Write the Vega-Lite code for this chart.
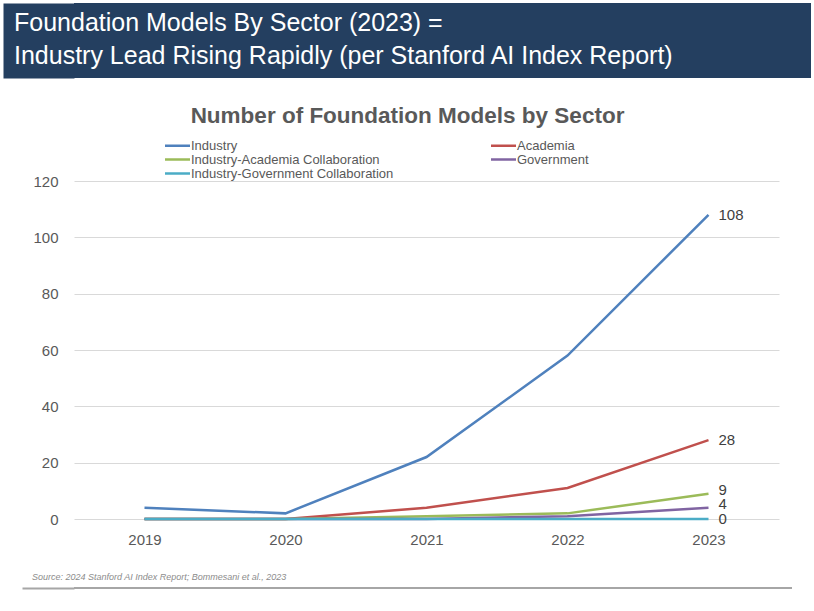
{
  "$schema": "https://vega.github.io/schema/vega-lite/v6.json",
  "background": "white",
  "padding": {"left": 3, "top": -3, "right": 3, "bottom": 3},
  "spacing": 26,
  "config": {
    "font": "Liberation Sans",
    "view": {"stroke": null}
  },
  "vconcat": [
    {
      "width": 737,
      "height": 75,
      "view": {"fill": "#243F60", "stroke": null},
      "title": {
        "text": ["Foundation Models By Sector (2023) =", "Industry Lead Rising Rapidly (per Stanford AI Index Report)"],
        "anchor": "start",
        "orient": "bottom",
        "frame": "group",
        "offset": -67,
        "dx": -60,
        "baseline": "top",
        "color": "#FFFFFF",
        "font": "Liberation Sans",
        "fontSize": 25,
        "fontWeight": "normal",
        "lineHeight": 33
      },
      "data": {"values": [{"t": ""}]},
      "mark": {"type": "text"},
      "encoding": {
        "text": {"field": "t"},
        "y": {"datum": 0, "type": "quantitative", "axis": {"labels": false, "ticks": false, "grid": false, "title": null, "domain": true, "domainColor": "#243F60", "domainWidth": 71, "domainCap": "butt", "offset": 35.5}}
      }
    },
    {
      "width": 705,
      "height": 338,
      "title": {
        "text": "Number of Foundation Models by Sector",
        "anchor": "middle",
        "frame": "group",
        "dx": -19,
        "offset": 47,
        "color": "#595959",
        "font": "Liberation Sans",
        "fontSize": 22.5,
        "fontWeight": "bold"
      },
      "data": {
        "values": [
          {"year": "2019", "sector": "Industry", "count": 4},
          {"year": "2020", "sector": "Industry", "count": 2},
          {"year": "2021", "sector": "Industry", "count": 22},
          {"year": "2022", "sector": "Industry", "count": 58},
          {"year": "2023", "sector": "Industry", "count": 108},
          {"year": "2019", "sector": "Academia", "count": 0},
          {"year": "2020", "sector": "Academia", "count": 0},
          {"year": "2021", "sector": "Academia", "count": 4},
          {"year": "2022", "sector": "Academia", "count": 11},
          {"year": "2023", "sector": "Academia", "count": 28},
          {"year": "2019", "sector": "Industry-Academia Collaboration", "count": 0},
          {"year": "2020", "sector": "Industry-Academia Collaboration", "count": 0},
          {"year": "2021", "sector": "Industry-Academia Collaboration", "count": 1},
          {"year": "2022", "sector": "Industry-Academia Collaboration", "count": 2},
          {"year": "2023", "sector": "Industry-Academia Collaboration", "count": 9},
          {"year": "2019", "sector": "Government", "count": 0},
          {"year": "2020", "sector": "Government", "count": 0},
          {"year": "2021", "sector": "Government", "count": 0},
          {"year": "2022", "sector": "Government", "count": 1},
          {"year": "2023", "sector": "Government", "count": 4},
          {"year": "2019", "sector": "Industry-Government Collaboration", "count": 0},
          {"year": "2020", "sector": "Industry-Government Collaboration", "count": 0},
          {"year": "2021", "sector": "Industry-Government Collaboration", "count": 0},
          {"year": "2022", "sector": "Industry-Government Collaboration", "count": 0},
          {"year": "2023", "sector": "Industry-Government Collaboration", "count": 0}
        ]
      },
      "encoding": {
        "x": {
          "field": "year",
          "type": "ordinal",
          "scale": {"type": "point", "padding": 0.5},
          "axis": {
            "title": null,
            "labelAngle": 0,
            "domain": false,
            "ticks": false,
            "grid": false,
            "labelPadding": 13,
            "labelFontSize": 15,
            "labelColor": "#595959",
            "labelFont": "Liberation Sans"
          }
        },
        "y": {
          "field": "count",
          "type": "quantitative",
          "scale": {"domain": [0, 120], "nice": false},
          "axis": {
            "title": null,
            "values": [0, 20, 40, 60, 80, 100, 120],
            "domain": false,
            "ticks": false,
            "grid": true,
            "gridColor": "#D9D9D9",
            "gridWidth": 1,
            "labelPadding": 16,
            "labelFontSize": 15,
            "labelColor": "#595959",
            "labelFont": "Liberation Sans",
            "minExtent": 71,
            "maxExtent": 71
          }
        }
      },
      "layer": [
        {
          "mark": {"type": "line", "strokeWidth": 2.5},
          "encoding": {
            "color": {
              "field": "sector",
              "type": "nominal",
              "scale": {
                "domain": ["Industry", "Academia", "Industry-Academia Collaboration", "Government", "Industry-Government Collaboration"],
                "range": ["#4F81BD", "#C0504D", "#9BBB59", "#8064A2", "#4BACC6"]
              },
              "legend": {
                "title": null,
                "orient": "none",
                "legendX": 97,
                "legendY": 136,
                "direction": "horizontal",
                "columns": 2,
                "columnPadding": 92,
                "rowPadding": 0,
                "symbolType": "M-2.5,0H2.5",
                "symbolSize": 100,
                "symbolStrokeWidth": 2.5,
                "labelOffset": 7,
                "labelFontSize": 13,
                "labelLimit": 400,
                "labelColor": "#595959",
                "labelFont": "Liberation Sans"
              }
            }
          }
        },
        {
          "transform": [
            {"filter": {"field": "year", "equal": "2023"}},
            {"filter": {"field": "sector", "oneOf": ["Industry", "Academia", "Industry-Government Collaboration"]}}
          ],
          "mark": {"type": "text", "align": "left", "baseline": "middle", "dx": 10, "fontSize": 15, "color": "#404040", "font": "Liberation Sans"},
          "encoding": {"text": {"field": "count", "type": "quantitative"}}
        },
        {
          "transform": [
            {"filter": {"field": "year", "equal": "2023"}},
            {"filter": {"field": "sector", "oneOf": ["Industry-Academia Collaboration", "Government"]}}
          ],
          "mark": {"type": "text", "align": "left", "baseline": "middle", "dx": 10, "dy": -4, "fontSize": 15, "color": "#404040", "font": "Liberation Sans"},
          "encoding": {"text": {"field": "count", "type": "quantitative"}}
        }
      ]
    },
    {
      "width": 718,
      "height": 2,
      "view": {"fill": "#A6A6A6", "stroke": null},
      "title": {
        "text": "Source: 2024 Stanford AI Index Report; Bommesani et al., 2023",
        "anchor": "start",
        "frame": "group",
        "dx": -42,
        "offset": -1,
        "color": "#8C8C8C",
        "font": "Liberation Sans",
        "fontSize": 9,
        "fontStyle": "italic",
        "fontWeight": "normal"
      },
      "data": {"values": [{"t": ""}]},
      "mark": {"type": "text"},
      "encoding": {
        "text": {"field": "t"},
        "y": {"datum": 0, "type": "quantitative", "axis": {"labels": false, "ticks": false, "grid": false, "title": null, "domain": true, "domainColor": "#A6A6A6", "domainWidth": 52, "domainCap": "butt", "offset": 26}}
      }
    }
  ]
}
